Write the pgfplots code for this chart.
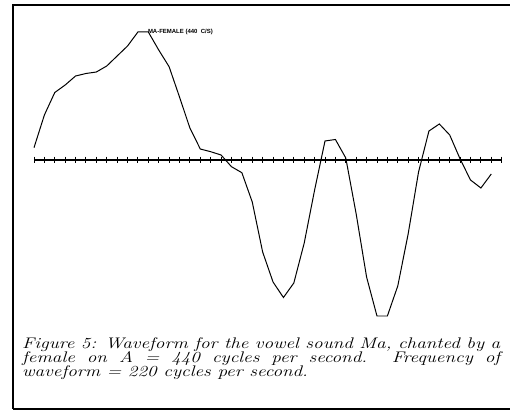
\documentclass[border=0pt]{standalone}
\usepackage{pgfplots}
\pgfplotsset{compat=1.18}
\usepackage{pgfplotstable}
\usepackage{graphicx}
\usepackage{fontspec}
\newfontfamily\labfont{Liberation Sans}

\pgfplotstableread{
i v
0 12.3
1 45
2 67.5
3 75
4 84
5 86.5
6 88
7 94
8 104
9 114
10 128
11 128
12 110
13 93.3
14 63
15 32
16 11
17 8.3
18 5
19 -6.7
20 -12.7
21 -42
22 -92
23 -122
24 -137.5
25 -123
26 -83
27 -30
28 19
29 20.5
30 2
31 -54
32 -117
33 -156
34 -156
35 -126
36 -74
37 -12
38 29
39 36
40 25
41 1
42 -20
43 -28
44 -14
}\wave

\pgfplotstableread{
i v
0 0
1 0
2 0
3 0
4 0
5 0
6 0
7 0
8 0
9 0
10 0
11 0
12 0
13 0
14 0
15 0
16 0
17 0
18 0
19 0
20 0
21 0
22 0
23 0
24 0
25 0
26 0
27 0
28 0
29 0
30 0
31 0
32 0
33 0
34 0
35 0
36 0
37 0
38 0
39 0
40 0
41 0
42 0
43 0
44 0
45 0
}\baseaxis

\begin{document}
\begin{tikzpicture}
\begin{axis}[
  at={(0,0)}, anchor=south west,
  scale only axis, width=511bp, height=417bp,
  xmin=-3.271, xmax=45.896, ymin=-257, ymax=160,
  hide axis, clip=false]
\addplot[black, line width=1.2pt, mark=|, mark size=3.5pt,
  mark options={line width=0.95pt}] table[x=i,y=v] {\baseaxis};
\addplot[black, line width=1pt] table[x=i,y=v] {\wave};
\draw[line width=1.75pt] (axis cs:-2.021,-249) -- (axis cs:-2.021,155) -- (axis cs:45.8,155);
\draw[line width=1.3pt] (axis cs:-2.021,-249) -- (axis cs:45.8,-249);
\node[anchor=west, inner sep=0pt, font=\labfont\bfseries\fontsize{6}{7}\selectfont]
  at (axis cs:10.95,128) {MA-FEMALE (440~~C/S)};
\node[anchor=base west, inner sep=0pt, font=\itshape\fontsize{15.4}{17}\selectfont]
  at (axis cs:-1.155,-189) {\scalebox{1.25}[1]{\makebox[382.4bp][s]{Figure 5: Waveform for the vowel sound Ma, chanted by a}}};
\node[anchor=base west, inner sep=0pt, font=\itshape\fontsize{15.4}{17}\selectfont]
  at (axis cs:-1.155,-203) {\scalebox{1.25}[1]{\makebox[382.4bp][s]{female on A = 440 cycles per second. Frequency of}}};
\node[anchor=base west, inner sep=0pt, font=\itshape\fontsize{15.4}{17}\selectfont]
  at (axis cs:-1.155,-217) {\scalebox{1.25}[1]{waveform = 220 cycles per second.}};
\end{axis}
\pgfresetboundingbox
\path[use as bounding box] (0,0) rectangle (511bp,417bp);
\end{tikzpicture}
\end{document}
